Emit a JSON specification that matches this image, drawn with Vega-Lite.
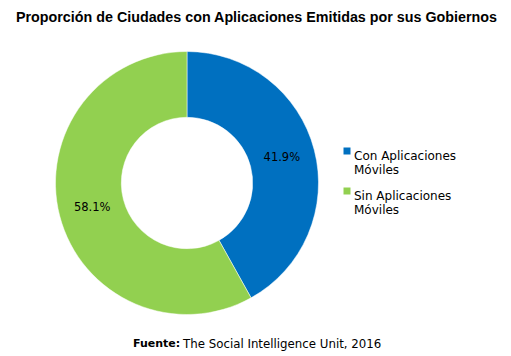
{
  "$schema": "https://vega.github.io/schema/vega-lite/v6.json",
  "padding": {"left": 0, "top": 10, "right": 0, "bottom": 0},
  "background": "white",
  "data": {"values": [
    {"categoria": "Con Aplicaciones Móviles", "valor": 0.419},
    {"categoria": "Sin Aplicaciones Móviles", "valor": 0.581}
  ]},
  "title": {
    "text": "Proporción de Ciudades con Aplicaciones Emitidas por sus Gobiernos",
    "font": "Liberation Sans", "fontSize": 14.3, "fontWeight": "bold", "color": "#000000",
    "anchor": "start", "dx": 16, "dy": 10, "offset": 4
  },
  "vconcat": [{
    "title": {
      "text": "The Social Intelligence Unit, 2016",
      "orient": "bottom", "anchor": "start", "dx": 183, "offset": -1, "baseline": "alphabetic",
      "font": "DejaVu Sans", "fontSize": 11.8, "fontWeight": "normal", "color": "#000000"
    },
    "vconcat": [{
      "width": 374,
      "height": 328,
      "title": {
        "text": "Fuente:",
        "orient": "bottom", "anchor": "start", "dx": 133, "offset": 0, "baseline": "alphabetic",
        "font": "DejaVu Sans", "fontSize": 11, "fontWeight": "bold", "color": "#000000"
      },
      "layer": [
        {
          "mark": {"type": "arc", "radius": 131.5, "radius2": 65.7, "stroke": "white", "strokeWidth": 0.5},
          "encoding": {
            "theta": {"field": "valor", "type": "quantitative", "stack": true},
            "color": {
              "field": "categoria", "type": "nominal",
              "scale": {"domain": ["Con Aplicaciones Móviles", "Sin Aplicaciones Móviles"], "range": ["#0070C0", "#92D050"]},
              "legend": {
                "title": null, "orient": "none", "legendX": 341, "legendY": 126,
                "symbolType": "square", "symbolSize": 49, "symbolStrokeWidth": 0,
                "labelFont": "DejaVu Sans", "labelFontSize": 12, "labelColor": "#000000",
                "labelOffset": 1, "rowPadding": 9, "padding": 0, "labelBaseline": "top",
                "labelExpr": "datum.label == 'Con Aplicaciones Móviles' ? ['Con Aplicaciones', 'Móviles'] : ['Sin Aplicaciones', 'Móviles']",
                "encode": {"labels": {"lineHeight": {"value": 16}, "dy": {"value": -6}}}
              }
            }
          }
        },
        {
          "mark": {"type": "text", "radius": 98, "font": "DejaVu Sans", "fontSize": 11.5, "baseline": "middle", "align": "center"},
          "encoding": {
            "theta": {"field": "valor", "type": "quantitative", "stack": true},
            "detail": {"field": "categoria", "type": "nominal"},
            "text": {"field": "valor", "type": "quantitative", "format": ".1%"},
            "color": {"value": "#000000"}
          }
        }
      ]
    }]
  }],
  "config": {"view": {"stroke": null}, "concat": {"spacing": 0}}
}
